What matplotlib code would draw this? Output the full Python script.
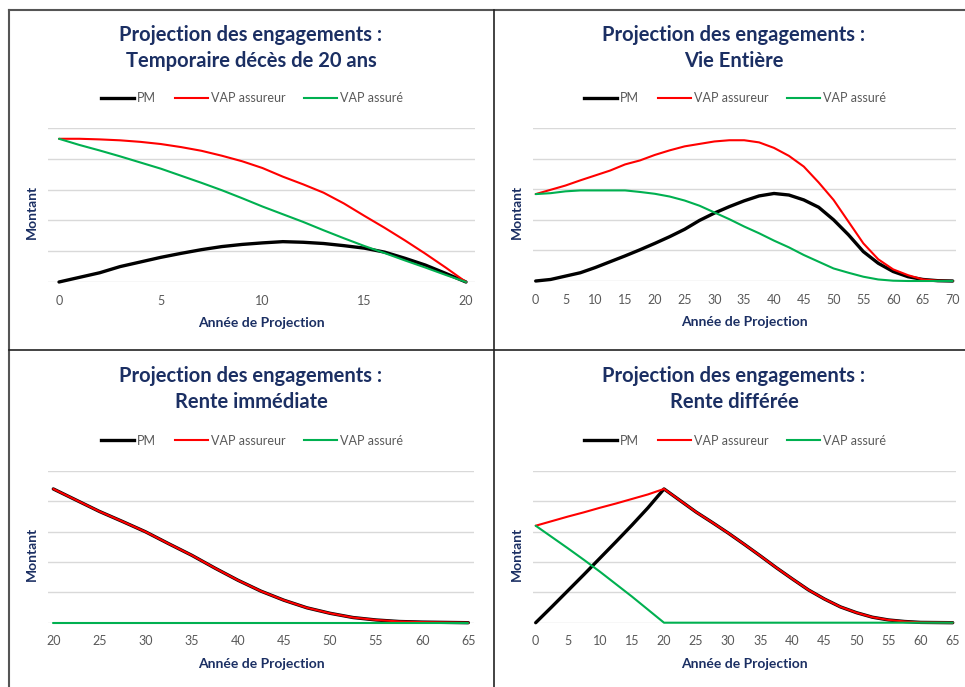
import matplotlib
matplotlib.use("Agg")
import matplotlib.pyplot as plt
from matplotlib.lines import Line2D

plt.rcParams['font.family'] = ['Lato', 'DejaVu Sans']

W, H = 965, 687

# ---------------- DATA ----------------
series_labels = ["PM", "VAP assureur", "VAP assuré"]
titles = ["Projection des engagements :\nTemporaire décès de 20 ans",
          "Projection des engagements :\nVie Entière",
          "Projection des engagements :\nRente immédiate",
          "Projection des engagements :\nRente différée"]
xlabel = "Année de Projection"
ylabel = "Montant"

# Temporaire décès 20 ans
tl_x = list(range(0, 21))
tl_pm = [0, 0.15, 0.30, 0.50, 0.65, 0.80, 0.93, 1.05, 1.15, 1.22, 1.27, 1.31, 1.29,
         1.25, 1.18, 1.10, 0.97, 0.77, 0.55, 0.28, 0]
tl_vap_assureur = [4.65, 4.65, 4.63, 4.60, 4.55, 4.48, 4.38, 4.26, 4.10, 3.92, 3.70,
                   3.42, 3.17, 2.90, 2.55, 2.15, 1.76, 1.35, 0.92, 0.47, 0]
tl_vap_assure = [4.65, 4.45, 4.27, 4.08, 3.88, 3.68, 3.45, 3.22, 2.98, 2.72, 2.45,
                 2.20, 1.95, 1.68, 1.42, 1.17, 0.94, 0.70, 0.47, 0.23, 0]
tl_ticks = [0, 5, 10, 15, 20]

# Vie entière
tr_x = [0, 2.5, 5, 7.5, 10, 12.5, 15, 17.5, 20, 22.5, 25, 27.5, 30, 32.5, 35, 37.5, 40,
        42.5, 45, 47.5, 50, 52.5, 55, 57.5, 60, 62.5, 65, 67.5, 70]
tr_pm = [0, 0.05, 0.16, 0.27, 0.44, 0.63, 0.82, 1.02, 1.23, 1.45, 1.69, 1.98, 2.22, 2.43,
         2.62, 2.78, 2.86, 2.81, 2.65, 2.41, 2.00, 1.51, 0.96, 0.58, 0.31, 0.14, 0.05, 0.01, 0]
tr_vap_assureur = [2.84, 2.98, 3.12, 3.29, 3.45, 3.61, 3.81, 3.94, 4.12, 4.27, 4.40, 4.48,
                   4.56, 4.60, 4.60, 4.53, 4.35, 4.09, 3.74, 3.22, 2.65, 1.94, 1.23, 0.71,
                   0.38, 0.19, 0.05, 0.01, 0]
tr_vap_assure = [2.84, 2.87, 2.93, 2.96, 2.96, 2.96, 2.96, 2.91, 2.85, 2.76, 2.63, 2.46,
                 2.24, 2.02, 1.78, 1.56, 1.32, 1.10, 0.85, 0.63, 0.41, 0.27, 0.14, 0.05,
                 0.01, 0, 0, 0, 0]
tr_ticks = list(range(0, 71, 5))

# Rente immédiate
bl_x = [20, 22.5, 25, 27.5, 30, 32.5, 35, 37.5, 40, 42.5, 45, 47.5, 50, 52.5, 55, 57.5,
        60, 62.5, 65]
bl_pm = [4.40, 4.03, 3.66, 3.33, 2.99, 2.60, 2.22, 1.80, 1.40, 1.04, 0.74, 0.49, 0.31,
         0.17, 0.09, 0.04, 0.02, 0.01, 0]
bl_vap_assureur = [4.40, 4.03, 3.66, 3.33, 2.99, 2.60, 2.22, 1.80, 1.40, 1.04, 0.74, 0.49,
                   0.31, 0.17, 0.09, 0.04, 0.02, 0.01, 0]
bl_vap_assure = [0] * 19
bl_ticks = list(range(20, 66, 5))

# Rente différée
br_x = [0, 2.5, 5, 7.5, 10, 12.5, 15, 17.5, 20, 22.5, 25, 27.5, 30, 32.5, 35, 37.5, 40,
        42.5, 45, 47.5, 50, 52.5, 55, 57.5, 60, 62.5, 65]
br_pm = [0, 0.52, 1.05, 1.58, 2.12, 2.66, 3.21, 3.78, 4.40, 4.02, 3.64, 3.30, 2.95, 2.58,
         2.20, 1.81, 1.44, 1.08, 0.78, 0.52, 0.33, 0.18, 0.09, 0.04, 0.01, 0.005, 0]
br_vap_assureur = [3.19, 3.34, 3.49, 3.63, 3.78, 3.92, 4.07, 4.22, 4.40, 4.02, 3.64, 3.30,
                   2.95, 2.58, 2.20, 1.81, 1.44, 1.08, 0.78, 0.52, 0.33, 0.18, 0.09, 0.04,
                   0.01, 0.005, 0]
br_vap_assure = [3.19, 2.82, 2.45, 2.07, 1.68, 1.27, 0.86, 0.43, 0, 0, 0, 0, 0, 0, 0, 0,
                 0, 0, 0, 0, 0, 0, 0, 0, 0, 0, 0]
br_ticks = list(range(0, 66, 5))

# ---------------- STYLE ----------------
NAVY = "#1B2F63"
GRAY_TXT = "#595959"
GRID = "#D9D9D9"
colors = ["black", "#FF0000", "#00B050"]
widths = [2.4, 1.5, 1.5]

fig = plt.figure(figsize=(W / 100, H / 100), dpi=100)


def fx(px):
    return px / W


def fy(py):
    return 1 - py / H


def panel(x, pm, vap1, vap2, ticks, title, box, xdata, xtitle, ytitle_y, ylbl_x):
    l, t, r, b = box
    ax = fig.add_axes([fx(l), fy(b), fx(r) - fx(l), (b - t) / H])
    ax.set_ylim(0, 5)
    (v0, p0), (v1, p1) = xdata
    scale = (v1 - v0) / (p1 - p0)
    ax.set_xlim(v0 - (p0 - l) * scale, v1 + (r - p1) * scale)
    for yv in range(0, 6):
        ax.axhline(yv, color=GRID, lw=1.0, zorder=0)
    for ser, c, w in zip([pm, vap1, vap2], colors, widths):
        ax.plot(x, ser, color=c, lw=w, clip_on=False, zorder=3 if c == "black" else 4,
                solid_capstyle="round")
    ax.set_xticks(ticks)
    ax.set_yticks([])
    ax.tick_params(axis="x", length=0, labelsize=9, labelcolor=GRAY_TXT, pad=9)
    for s in ax.spines.values():
        s.set_visible(False)
    fig.text(fx(xtitle), fy(ytitle_y), title, ha="center", va="center",
             fontsize=14.5, fontweight="bold", color=NAVY, linespacing=1.4)
    fig.text(fx(xtitle + 10), fy(b + 41), xlabel, ha="center", va="center",
             fontsize=10, fontweight="bold", color=NAVY)
    fig.text(fx(ylbl_x), fy((t + b) / 2 + 7), ylabel, ha="center", va="center",
             rotation=90, fontsize=10, fontweight="bold", color=NAVY)
    handles = [Line2D([], [], color=c, lw=w) for c, w in zip(colors, widths)]
    ax.legend(handles, series_labels, loc="center", ncol=3,
              bbox_to_anchor=(fx(xtitle + 1), fy(t - 30)), bbox_transform=fig.transFigure,
              frameon=False, fontsize=9, labelcolor=GRAY_TXT, handlelength=2.65,
              handletextpad=0.25, columnspacing=1.5, borderpad=0)
    return ax


panel(tl_x, tl_pm, tl_vap_assureur, tl_vap_assure, tl_ticks, titles[0],
      (48, 128, 475, 282), ((0, 59), (20, 466)), 251, 48, 32)
panel(tr_x, tr_pm, tr_vap_assureur, tr_vap_assure, tr_ticks, titles[1],
      (533, 128, 956, 281), ((0, 535.7), (70, 952.7)), 734, 48, 517)
panel(bl_x, bl_pm, bl_vap_assureur, bl_vap_assure, bl_ticks, titles[2],
      (48, 470.7, 474, 622.7), ((20, 53.3), (65, 468.3)), 251, 389, 32)
panel(br_x, br_pm, br_vap_assureur, br_vap_assure, br_ticks, titles[3],
      (532.7, 470.7, 956, 622.7), ((0, 535.7), (65, 952.7)), 734, 389, 517)

# frame lines
fig.add_artist(Line2D([fx(8.5), fx(8.5)], [fy(10), fy(687)], color="#555555", lw=1.5))
fig.add_artist(Line2D([fx(8.5), fx(965)], [fy(10), fy(10)], color="#555555", lw=1.5))
fig.add_artist(Line2D([fx(493.5), fx(493.5)], [fy(10), fy(687)], color="#222222", lw=1.2))
fig.add_artist(Line2D([fx(8.5), fx(965)], [fy(350.3), fy(350.3)], color="#222222", lw=1.2))

fig.savefig("out.png", dpi=100)
